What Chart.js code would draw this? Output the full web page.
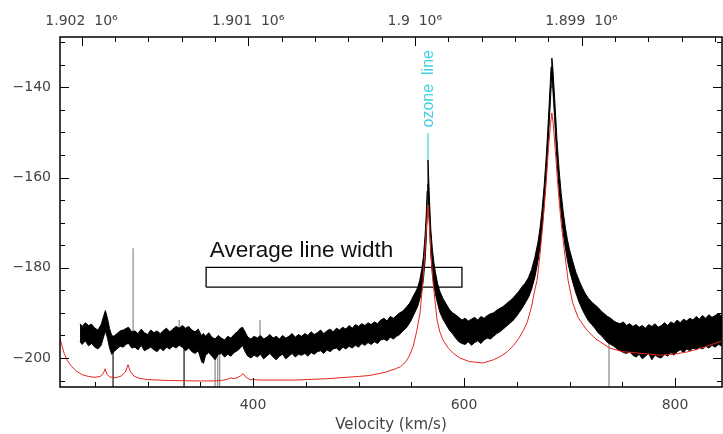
<!DOCTYPE html>
<html><head><meta charset="utf-8">
<style>html,body{margin:0;padding:0;background:#fff;}canvas{display:block;}</style>
<script src="https://cdn.jsdelivr.net/npm/chart.js@4.4.0/dist/chart.umd.min.js"></script>
</head><body>
<canvas id="c" width="723" height="434"></canvas>
<script>
// ---------------- data ----------------
const velRange = [217, 844.5];          // km/s shown on bottom axis
const yRange = [-206.44, -128.83];      // left axis range
const freqRange = [1898157, 1902129];   // MHz shown on top axis (reversed)

const xTickValues = [400, 600, 800];
const xMinorTicks = [250, 300, 350, 450, 500, 550, 650, 700, 750];
const yTickValues = [-200, -180, -160, -140];
const yMinorTicks = [-205, -195, -190, -185, -175, -170, -165, -155, -150, -145, -135, -130];
const freqTickValues = [1899000, 1900000, 1901000, 1902000];
const freqMinorTicks = [1898200, 1898400, 1898600, 1898800, 1899200, 1899400, 1899600, 1899800,
  1900200, 1900400, 1900600, 1900800, 1901200, 1901400, 1901600, 1901800];

// observed spectrum (black, noisy): velocity, upper and lower envelope
const blackVel = [
  236,238,241,244,247,250,253,256,258,260,262,264,266,268,271,274,277,280,282,285,
  288,291,294,297,300,303,306,309,312,315,318,321,324,327,330,
  333,336,339,342,345,348,351,353,355,
  358,361,364,367,370,373,376,379,382,385,388,390,392,
  395,398,401,404,407,410,413,416,419,422,425,428,431,434,437,440,443,446,
  449,452,455,458,461,464,467,470,473,476,479,482,485,488,491,494,497,500,503,506,509,
  512,515,518,521,524,527,530,533,536,539,542,545,548,
  550,552,554,556,558,560,561.5,563,564,565,565.8,566.6,567.5,568.5,570,571.5,573,575,577,580,583,586,589,
  592,595,598,601,604,607,610,613,616,619,622,625,628,631,
  634,637,640,643,646,649,652,655,658,661,664,667,670,672,674,676,678,680,681.5,682.5,683.2,684,685,686.5,688,
  690,692,694,696,698,700,703,706,709,712,715,718,721,724,727,730,733,736,739,
  742,745,748,751,754,757,760,763,766,769,772,775,778,781,784,787,790,793,796,799,802,805,808,811,814,817,820,823,826,829,832,835,838,841,845
];
const blackHigh = [
  -192.4,-193.0,-192.2,-192.8,-192.5,-193.4,-193.8,-192.6,-191.0,-189.5,-191.2,-193.5,-195.0,-195.2,-194.6,-194.0,-193.8,-193.4,-193.2,-194.2,
  -194.0,-194.6,-193.6,-194.4,-194.8,-193.8,-194.4,-194.0,-194.6,-193.9,-193.4,-194.2,-193.6,-193.0,-193.4,
  -192.8,-193.4,-193.0,-193.8,-194.2,-193.6,-195.0,-194.6,-195.2,
  -194.4,-195.4,-195.8,-195.0,-195.6,-196.0,-195.2,-195.6,-194.8,-194.2,-193.4,-193.2,-194.0,
  -195.4,-195.8,-195.2,-195.6,-195.0,-195.8,-195.4,-194.8,-195.6,-195.2,-195.8,-195.0,-195.6,-195.2,-194.6,-195.4,-194.8,-195.2,
  -194.6,-195.0,-194.2,-194.8,-194.4,-193.8,-194.6,-194.0,-193.6,-194.2,-193.4,-193.8,-193.2,-193.6,-192.8,-193.4,-192.6,-193.0,-192.4,-192.8,-192.2,
  -192.6,-192.0,-192.4,-191.6,-191.2,-191.8,-190.8,-191.2,-190.6,-190.0,-189.6,-188.8,-188.0,
  -187.2,-186.2,-185.4,-184.4,-182.8,-180.2,-177.5,-173.0,-169.0,-163.0,-156.1,-161.0,-166.5,-171.5,-176.0,-179.0,-181.2,-183.6,-185.2,-186.8,-188.0,-189.2,-190.0,
  -190.4,-191.0,-191.6,-191.2,-191.8,-191.4,-191.0,-191.6,-190.8,-191.2,-190.6,-190.2,-190.0,-189.4,
  -189.0,-188.6,-188.0,-187.4,-186.8,-186.0,-185.2,-184.2,-183.4,-182.2,-180.4,-177.8,-174.4,-171.2,-167.0,-161.6,-155.0,-146.8,-140.0,-135.5,-133.5,-135.2,-139.0,-145.0,-151.4,
  -158.0,-163.4,-167.6,-171.0,-173.8,-176.0,-178.6,-181.0,-182.8,-184.4,-185.8,-186.8,-187.6,-188.2,-188.8,-189.6,-190.2,-190.8,-191.2,
  -191.8,-192.2,-192.4,-192.0,-192.8,-192.4,-193.0,-192.6,-193.2,-192.8,-193.4,-192.6,-193.0,-192.4,-193.2,-192.8,-192.2,-192.8,-192.0,-192.4,-191.6,-192.2,-191.4,-191.8,-191.2,-191.6,-190.8,-191.4,-190.6,-191.2,-190.4,-191.0,-190.6,-190.2,-190.8
];
const blackLow = [
  -196.4,-197.0,-196.2,-197.3,-196.8,-197.6,-198.0,-197.2,-195.6,-194.0,-195.6,-197.8,-199.2,-198.6,-198.0,-197.4,-197.6,-196.9,-196.8,-197.8,
  -197.6,-198.2,-197.2,-198.4,-198.0,-197.6,-198.2,-198.6,-197.8,-198.4,-197.6,-198.0,-197.4,-197.8,-197.2,
  -197.6,-198.4,-197.8,-198.6,-199.0,-198.4,-200.6,-201.2,-199.4,
  -198.8,-199.6,-200.4,-199.2,-199.0,-199.8,-199.2,-199.6,-198.8,-198.4,-197.8,-197.2,-198.4,
  -199.6,-200.0,-199.4,-199.8,-199.2,-200.2,-199.6,-199.0,-199.8,-200.4,-199.6,-199.2,-200.2,-199.6,-199.0,-199.8,-199.2,-199.4,
  -199.0,-199.6,-198.8,-199.2,-198.6,-198.4,-199.0,-198.2,-198.6,-198.0,-197.8,-198.4,-197.6,-198.0,-197.4,-197.8,-197.2,-197.6,-196.8,-197.2,-196.6,
  -197.0,-196.4,-196.8,-196.0,-195.8,-196.2,-195.4,-195.8,-195.2,-194.8,-194.0,-193.4,-192.4,
  -191.6,-190.6,-189.6,-188.6,-187.0,-185.0,-182.5,-178.5,-174.5,-168.5,-161.5,-166.5,-172.0,-177.0,-181.5,-184.0,-186.0,-188.0,-189.8,-191.4,-192.6,-193.8,-194.6,
  -195.6,-196.4,-196.8,-197.0,-196.4,-197.2,-196.6,-196.2,-196.8,-196.0,-195.6,-195.8,-195.2,-194.6,
  -194.2,-193.6,-193.0,-192.4,-191.8,-191.0,-190.0,-189.0,-187.8,-186.6,-184.8,-182.2,-178.6,-175.4,-171.2,-165.8,-159.2,-151.0,-144.5,-140.0,-138.0,-139.8,-143.6,-149.6,-156.0,
  -162.4,-168.0,-172.2,-175.6,-178.4,-180.6,-183.2,-185.6,-187.6,-189.2,-190.6,-191.8,-192.6,-193.4,-194.4,-195.0,-195.8,-196.6,-197.0,
  -197.4,-198.0,-198.4,-198.8,-199.0,-198.6,-199.4,-199.8,-199.2,-200.2,-199.6,-199.0,-200.4,-199.4,-199.8,-200.0,-199.2,-199.6,-198.8,-199.4,-198.6,-198.2,-198.8,-198.0,-198.4,-197.8,-198.2,-197.6,-198.0,-197.4,-197.8,-197.2,-197.6,-197.0,-197.4
];

// model spectrum (red)
const redVel = [217,219,221,224,228,233,238,244,250,255,258,259.7,261.5,264,270,275,279,281.5,283.5,287,292,300,320,350,362,370,376,379,381,385,388,390.5,393,397,410,440,470,500,510,525,535,540,545,548,551.7,555,558.3,561,563,564.5,565.8,567,568.5,570.5,574.4,577,580,585,590,596,605,618,628,635,641,647,652,656,660,664,667,669.2,672,675,678,680,682,683.2,684.5,686.5,689,692,695,698.6,703,708,716.6,725,738,750,764,786,800,811,825,835,845];
const redVal = [-195.8,-197.4,-199.0,-200.6,-201.9,-203.0,-203.7,-204.1,-204.3,-204.1,-203.5,-202.4,-203.6,-204.2,-204.4,-204.0,-203.1,-201.5,-202.9,-204.0,-204.5,-204.8,-205.0,-205.1,-205.1,-205.0,-204.7,-204.4,-204.6,-204.4,-204.0,-203.5,-204.2,-204.8,-204.9,-204.9,-204.6,-204.1,-203.9,-203.2,-202.4,-201.9,-200.8,-199.6,-197.5,-194.2,-190.0,-183.0,-176.0,-170.5,-166.1,-170.0,-176.5,-183.0,-191.6,-194.2,-196.0,-197.8,-199.0,-200.0,-200.8,-201.1,-200.4,-199.6,-198.6,-197.2,-195.6,-194.0,-192.0,-188.6,-185.0,-182.8,-177.0,-169.5,-160.5,-153.5,-148.0,-145.7,-148.0,-154.0,-162.0,-170.0,-176.0,-182.8,-187.8,-191.0,-193.9,-195.8,-197.8,-198.6,-198.9,-199.4,-199.1,-198.7,-197.8,-197.0,-196.2];

// isolated vertical spikes
const graySpikeVel = [286.3, 330, 406.6, 364, 366.5, 368.4, 737.4];
const graySpikeTop = [-175.7, -191.6, -191.6, -198.3, -198.3, -198.8, -196.8];
const graySpikeBottom = [-194, -194, -195, -206.44, -206.44, -206.44, -206.44];
const blackSpikeVel = [267.3, 334.6, 351.4];
const blackSpikeTop = [-197.6, -197.2, -198];
const blackSpikeBottom = [-206.44, -206.44, -201];

// annotations
const ozoneVel = 565.8;
const ozoneLineY = [-150.2, -156.1];
const ozoneLabel = 'ozone  line';
const ozoneLabelY = -140.3;
const boxVel = [355.5, 598];
const boxY = [-184.3, -179.9];
const boxLabel = 'Average line width';
const boxLabelAt = [359, -177.6];

// ---------------- chart ----------------
const FONT = '"Liberation Sans", Arial, Helvetica, sans-serif';
const AXFONT = '"DejaVu Sans", "Liberation Sans", Arial, sans-serif';
const pts = (xs, ys) => xs.map((v, i) => ({x: v, y: ys[i]}));
const segs = (xs, a, b) => xs.flatMap((v, i) => [{x: v, y: a[i]}, {x: v, y: b[i]}, {x: v, y: null}]);
const fixTicks = vals => s => { s.ticks = vals.map(v => ({value: v})); };

const datasets = [
  {data: pts(redVel, redVal), borderColor: '#e3261f', borderWidth: 1, order: 0},
  {data: pts([ozoneVel, ozoneVel], ozoneLineY), borderColor: '#3fd0e2', borderWidth: 1.2, order: 0},
  {data: pts([boxVel[0], boxVel[1], boxVel[1], boxVel[0], boxVel[0]], [boxY[0], boxY[0], boxY[1], boxY[1], boxY[0]]),
    borderColor: '#000', borderWidth: 1.3, order: 1},
  {data: pts(blackVel, blackHigh), borderColor: '#000', borderWidth: 1, fill: '+1', backgroundColor: '#000', order: 3},
  {data: pts(blackVel, blackLow), borderColor: '#000', borderWidth: 1, order: 3},
  {data: segs(graySpikeVel, graySpikeTop, graySpikeBottom), borderColor: '#8a8a8a', borderWidth: 1.2, spanGaps: false, order: 4},
  {data: segs(blackSpikeVel, blackSpikeTop, blackSpikeBottom), borderColor: '#111', borderWidth: 1.2, spanGaps: false, order: 4}
];

const tickFont = {family: AXFONT, size: 14};
const frame = {
  id: 'frame',
  afterDatasetsDraw(chart) {
    const {ctx, chartArea: a} = chart;
    const {x, y, x2} = chart.scales;
    ctx.save();
    ctx.strokeStyle = '#000';
    ctx.lineWidth = 1;
    ctx.beginPath();
    const vt = (px, y0, len) => { const p = Math.round(px) + 0.5; ctx.moveTo(p, y0); ctx.lineTo(p, y0 + len); };
    const ht = (py, x0, len) => { const p = Math.round(py) + 0.5; ctx.moveTo(x0, p); ctx.lineTo(x0 + len, p); };
    xTickValues.forEach(v => vt(x.getPixelForValue(v), a.bottom, -9));
    xMinorTicks.forEach(v => vt(x.getPixelForValue(v), a.bottom, -5));
    freqTickValues.forEach(v => vt(x2.getPixelForValue(v), a.top, 9));
    freqMinorTicks.forEach(v => vt(x2.getPixelForValue(v), a.top, 5));
    yTickValues.forEach(v => { ht(y.getPixelForValue(v), a.left, 9); ht(y.getPixelForValue(v), a.right, -9); });
    yMinorTicks.forEach(v => { ht(y.getPixelForValue(v), a.left, 5); ht(y.getPixelForValue(v), a.right, -5); });
    ctx.stroke();
    ctx.lineWidth = 1.5;
    ctx.strokeRect(a.left, a.top, a.right - a.left, a.bottom - a.top);
    // box label
    ctx.fillStyle = '#111';
    ctx.font = '22.5px ' + FONT;
    ctx.textAlign = 'left';
    ctx.textBaseline = 'alphabetic';
    ctx.fillText(boxLabel, x.getPixelForValue(boxLabelAt[0]), y.getPixelForValue(boxLabelAt[1]));
    // ozone label, vertical
    ctx.translate(x.getPixelForValue(ozoneVel) + 1, y.getPixelForValue(ozoneLabelY));
    ctx.rotate(-Math.PI / 2);
    ctx.fillStyle = '#3fd0e2';
    ctx.font = '16px ' + FONT;
    ctx.textAlign = 'center';
    ctx.textBaseline = 'middle';
    ctx.fillText(ozoneLabel, 0, 0);
    ctx.restore();
  }
};

new Chart(document.getElementById('c').getContext('2d'), {
  type: 'line',
  data: {datasets},
  options: {
    responsive: false, animation: false, devicePixelRatio: 1,
    layout: {padding: {left: 0, right: 1, top: 0, bottom: 0}},
    elements: {point: {radius: 0}, line: {tension: 0}},
    plugins: {legend: {display: false}, tooltip: {enabled: false}},
    scales: {
      x: {
        type: 'linear', position: 'bottom', min: velRange[0], max: velRange[1],
        afterBuildTicks: fixTicks(xTickValues),
        afterFit(s) { s.height = 47; s.paddingLeft = 0; s.paddingRight = 0; },
        grid: {display: false, drawTicks: false}, border: {display: false},
        ticks: {autoSkip: false, maxRotation: 0, padding: 10,
          color: '#444', font: tickFont, callback: v => String(v)},
        title: {display: true, text: 'Velocity (km/s)', color: '#444', font: {family: AXFONT, size: 15}, padding: {top: 0, bottom: 0}}
      },
      x2: {
        type: 'linear', position: 'top', reverse: true, min: freqRange[0], max: freqRange[1],
        afterBuildTicks: fixTicks(freqTickValues),
        afterFit(s) { s.height = 37; s.paddingLeft = 0; s.paddingRight = 0; },
        grid: {display: false, drawTicks: false}, border: {display: false},
        ticks: {autoSkip: false, maxRotation: 0, padding: 7,
          color: '#444', font: tickFont, callback: v => (v / 1e6) + '  10\u2076'}
      },
      y: {
        type: 'linear', position: 'left', min: yRange[0], max: yRange[1],
        afterBuildTicks: fixTicks(yTickValues),
        afterFit(s) { s.width = 60; s.paddingTop = 0; s.paddingBottom = 0; },
        grid: {display: false, drawTicks: false}, border: {display: false},
        ticks: {autoSkip: false, padding: 9,
          color: '#444', font: tickFont, callback: v => '\u2212' + Math.abs(v)}
      }
    }
  },
  plugins: [frame]
});
</script>
</body></html>
